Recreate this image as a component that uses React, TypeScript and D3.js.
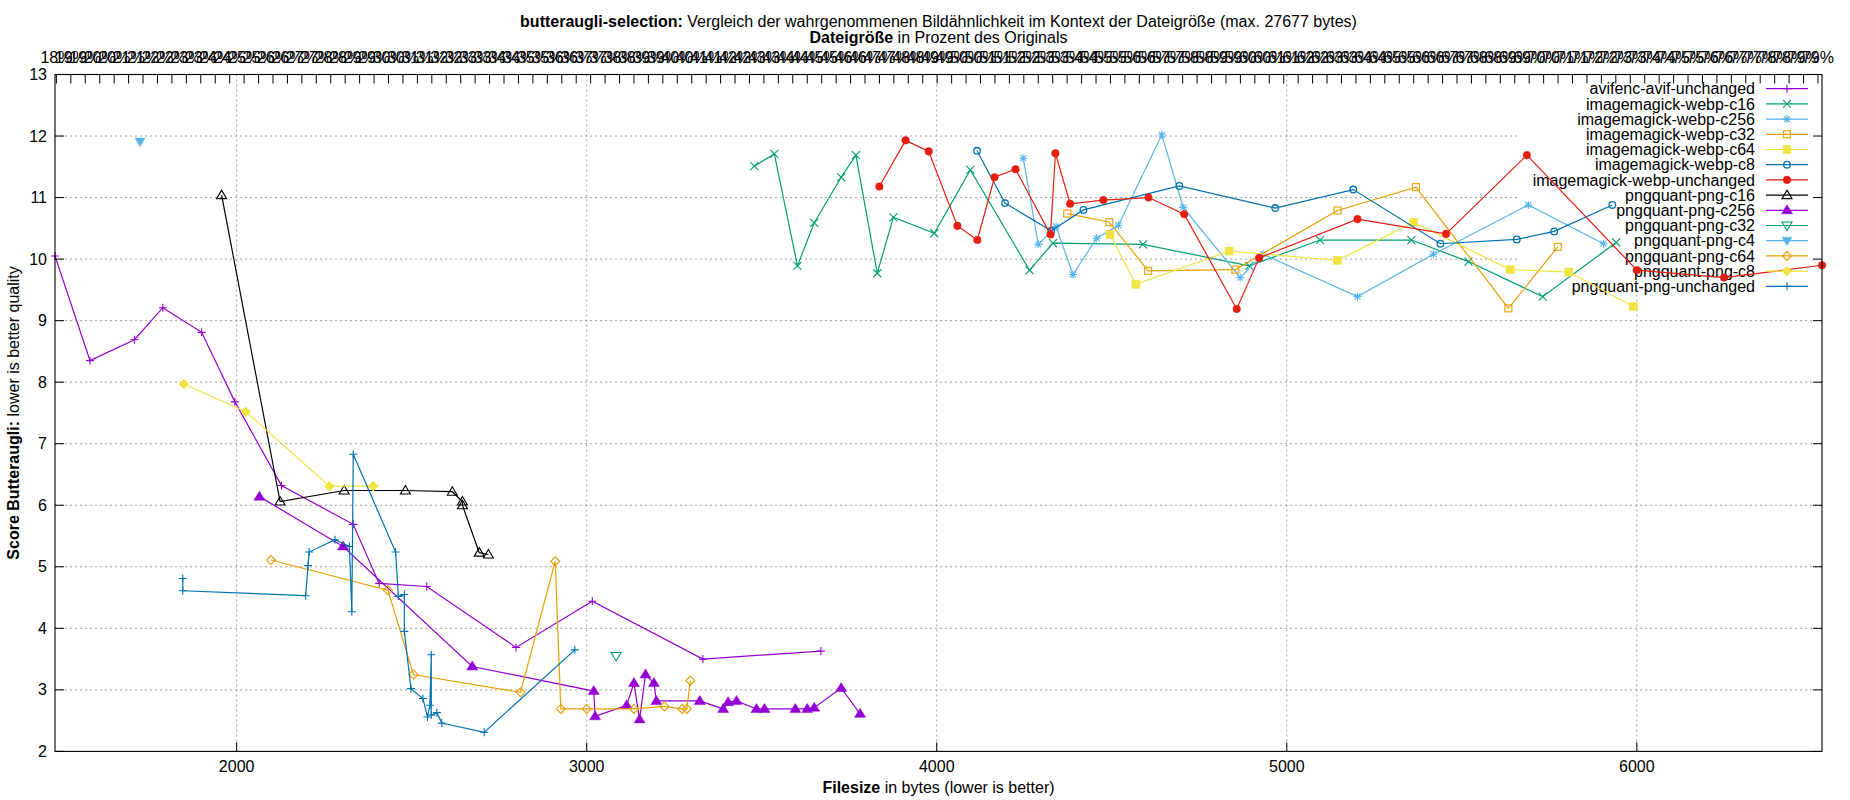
import React, { useEffect } from "react";
import * as d3 from "d3";

type Pt = [number, number];

// ---- data: [filesize in bytes, butteraugli score] ----
const avifencAvifUnchanged: Pt[] = [
  [1481, 10.05], [1581, 8.35], [1708, 8.69], [1789, 9.21], [1900, 8.81], [1995, 7.68],
  [2128, 6.32], [2333, 5.69], [2407, 4.73], [2543, 4.68], [2798, 3.69], [3016, 4.44],
  [3332, 3.5], [3669, 3.63],
];
const webpC16: Pt[] = [
  [3479, 11.51], [3536, 11.71], [3602, 9.89], [3650, 10.59], [3727, 11.33], [3769, 11.69],
  [3830, 9.77], [3876, 10.68], [3993, 10.42], [4096, 11.45], [4265, 9.82], [4332, 10.26],
  [4589, 10.24], [4893, 9.89], [5095, 10.31], [5356, 10.31], [5519, 9.96], [5731, 9.39],
  [5941, 10.27],
];
const webpC256: Pt[] = [
  [4247, 11.64], [4290, 10.24], [4341, 10.53], [4389, 9.75], [4457, 10.34], [4519, 10.55],
  [4643, 12.02], [4704, 10.84], [4867, 9.7], [4932, 10.08], [5202, 9.39], [5419, 10.08],
  [5690, 10.88], [5905, 10.25],
];
const webpC32: Pt[] = [
  [4373, 10.74], [4493, 10.6], [4604, 9.81], [4853, 9.83], [5145, 10.79], [5369, 11.17],
  [5633, 9.2], [5774, 10.2],
];
const webpC64: Pt[] = [
  [4495, 10.4], [4569, 9.59], [4835, 10.13], [5145, 9.98], [5362, 10.6], [5638, 9.83],
  [5806, 9.79], [5990, 9.23],
];
const webpC8: Pt[] = [
  [4115, 11.76], [4195, 10.91], [4327, 10.46], [4419, 10.8], [4693, 11.19], [4967, 10.83],
  [5190, 11.13], [5439, 10.25], [5657, 10.32], [5764, 10.45], [5930, 10.88],
];
const webpUnchanged: Pt[] = [
  [3836, 11.18], [3911, 11.93], [3977, 11.75], [4059, 10.54], [4116, 10.31], [4165, 11.33],
  [4225, 11.46], [4325, 10.4], [4339, 11.72], [4381, 10.9], [4476, 10.96], [4605, 11.0],
  [4707, 10.73], [4857, 9.19], [4921, 10.02], [5202, 10.65], [5455, 10.41], [5686, 11.69],
  [6000, 9.82], [6249, 9.7], [6529, 9.9],
];
const pngC16: Pt[] = [
  [1957, 11.04], [2124, 6.06], [2307, 6.24], [2482, 6.24], [2616, 6.22], [2645, 6.06],
  [2645, 6.0], [2693, 5.23], [2719, 5.2],
];
const pngC256: Pt[] = [
  [2065, 6.14], [2304, 5.33], [2673, 3.38], [3020, 2.98], [3024, 2.57], [3114, 2.75],
  [3135, 3.11], [3151, 2.52], [3168, 3.25], [3192, 3.11], [3199, 2.82], [3323, 2.82],
  [3390, 2.69], [3404, 2.8], [3428, 2.82], [3485, 2.69], [3508, 2.69], [3596, 2.69],
  [3630, 2.69], [3650, 2.71], [3727, 3.03], [3781, 2.61],
];
const pngC32: Pt[] = [[3084, 3.55]];
const pngC4: Pt[] = [[1724, 11.91]];
const pngC64: Pt[] = [
  [2098, 5.11], [2432, 4.62], [2505, 3.25], [2811, 2.96], [2910, 5.09], [2926, 2.69],
  [3000, 2.69], [3135, 2.69], [3222, 2.73], [3273, 2.69], [3286, 2.69], [3296, 3.15],
];
const pngC8: Pt[] = [[1849, 7.97], [2026, 7.52], [2265, 6.31], [2390, 6.31]];
const pngUnchanged: Pt[] = [
  [1846, 4.81], [1846, 4.61], [2197, 4.53], [2204, 5.02], [2207, 5.24], [2281, 5.44],
  [2322, 5.33], [2329, 4.27], [2333, 6.83], [2454, 5.24], [2462, 4.52], [2479, 4.55],
  [2479, 3.95], [2498, 3.02], [2532, 2.86], [2545, 2.56], [2552, 2.75], [2556, 3.57],
  [2556, 2.59], [2572, 2.63], [2586, 2.46], [2707, 2.31], [2966, 3.65],
];

const seriesNames = [
  "avifenc-avif-unchanged", "imagemagick-webp-c16", "imagemagick-webp-c256",
  "imagemagick-webp-c32", "imagemagick-webp-c64", "imagemagick-webp-c8",
  "imagemagick-webp-unchanged", "pngquant-png-c16", "pngquant-png-c256",
  "pngquant-png-c32", "pngquant-png-c4", "pngquant-png-c64", "pngquant-png-c8",
  "pngquant-png-unchanged",
];
const seriesData: Pt[][] = [
  avifencAvifUnchanged, webpC16, webpC256, webpC32, webpC64, webpC8, webpUnchanged,
  pngC16, pngC256, pngC32, pngC4, pngC64, pngC8, pngUnchanged,
];
const seriesColors = [
  "#9400d3", "#009e73", "#56b4e9", "#e69f00", "#f0e442", "#0072b2", "#e51e10",
  "#000000", "#9400d3", "#009e73", "#56b4e9", "#e69f00", "#f0e442", "#0072b2",
];
const seriesMarkers = [
  "plus", "cross", "star", "square", "squareFilled", "circle", "circleFilled",
  "triangle", "triangleFilled", "triangleDown", "triangleDownFilled", "diamond",
  "diamondFilled", "plus",
];

const yTickValues = [2, 3, 4, 5, 6, 7, 8, 9, 10, 11, 12, 13];
const xTickValues = [2000, 3000, 4000, 5000, 6000];
const REF_BYTES = 8250; // reference size for the top percent axis
const pctTickValues = d3.range(18, 79.01, 0.5);

// ---- layout ----
const W = 1850;
const H = 800;
const L = 55;
const R = 1822;
const T = 74.5;
const B = 751.4;
const FONT = "'Liberation Sans', Arial, sans-serif";

function Marker({ kind, x, y, color }: { kind: string; x: number; y: number; color: string }) {
  const s = 4;
  const common = { stroke: color, strokeWidth: 1.1, fill: "none" };
  switch (kind) {
    case "plus":
      return <path d={`M${x - s},${y}H${x + s}M${x},${y - s}V${y + s}`} {...common} />;
    case "cross":
      return <path d={`M${x - s},${y - s}L${x + s},${y + s}M${x - s},${y + s}L${x + s},${y - s}`} {...common} />;
    case "star":
      return (
        <path
          d={`M${x - s},${y}H${x + s}M${x},${y - s}V${y + s}M${x - s * 0.75},${y - s * 0.75}L${x + s * 0.75},${y + s * 0.75}M${x - s * 0.75},${y + s * 0.75}L${x + s * 0.75},${y - s * 0.75}`}
          {...common}
        />
      );
    case "square":
      return <rect x={x - 3.5} y={y - 3.5} width={7} height={7} {...common} />;
    case "squareFilled":
      return <rect x={x - 4} y={y - 4} width={8} height={8} fill={color} stroke={color} strokeWidth={0.5} />;
    case "circle":
      return <circle cx={x} cy={y} r={3.3} {...common} strokeWidth={1.3} />;
    case "circleFilled":
      return <circle cx={x} cy={y} r={3.8} fill={color} stroke={color} strokeWidth={0.5} />;
    case "triangle":
      return <path d={`M${x},${y - 5}L${x + 5},${y + 3.5}L${x - 5},${y + 3.5}Z`} {...common} />;
    case "triangleFilled":
      return <path d={`M${x},${y - 5.5}L${x + 5.5},${y + 3.5}L${x - 5.5},${y + 3.5}Z`} fill={color} stroke={color} strokeWidth={0.5} />;
    case "triangleDown":
      return <path d={`M${x},${y + 5}L${x + 5},${y - 3.5}L${x - 5},${y - 3.5}Z`} {...common} />;
    case "triangleDownFilled":
      return <path d={`M${x},${y + 5}L${x + 5},${y - 3.5}L${x - 5},${y - 3.5}Z`} fill={color} stroke={color} strokeWidth={0.5} />;
    case "diamond":
      return <path d={`M${x},${y - 4.5}L${x + 4.5},${y}L${x},${y + 4.5}L${x - 4.5},${y}Z`} {...common} />;
    case "diamondFilled":
      return <path d={`M${x},${y - 5}L${x + 5},${y}L${x},${y + 5}L${x - 5},${y}Z`} fill={color} stroke={color} strokeWidth={0.5} />;
    default:
      return null;
  }
}

export default function App() {
  useEffect(() => {
    document.body.style.margin = "0";
    document.body.style.overflow = "hidden";
  }, []);

  const allX = seriesData.flat().map((d) => d[0]);
  const xExt = d3.extent(allX) as [number, number];
  const x = d3.scaleLinear().domain(xExt).range([L, R]);
  const y = d3.scaleLinear().domain([2, 13]).range([B, T]);
  const x2 = d3
    .scaleLinear()
    .domain([(xExt[0] / REF_BYTES) * 100, (xExt[1] / REF_BYTES) * 100])
    .range([L, R]);
  const line = d3
    .line<Pt>()
    .x((d) => x(d[0]))
    .y((d) => y(d[1]));
  const pctFmt = d3.format(".0f");

  const legendX0 = 1517;
  const legendRow0 = 88.7;
  const legendDy = 15.2;
  const legendTextX = 1755;
  const sampleX1 = 1766;
  const sampleX2 = 1808;

  return (
    <svg width={W} height={H} style={{ display: "block", background: "#fff" }} fontFamily={FONT} fontSize={16}>
      <rect x={0} y={0} width={W} height={H} fill="#fff" />
      {/* grid */}
      <g stroke="#a0a0a0" strokeWidth={1} strokeDasharray="2,3">
        {yTickValues
          .filter((v) => v > 2 && v < 13)
          .map((v) => (
            <line key={"gy" + v} x1={L} x2={R} y1={y(v)} y2={y(v)} />
          ))}
        {xTickValues.map((v) => (
          <line key={"gx" + v} x1={x(v)} x2={x(v)} y1={T} y2={B} />
        ))}
      </g>
      {/* opaque key background */}
      <rect x={legendX0} y={T + 0.5} width={R - legendX0 - 0.5} height={legendRow0 + 13 * legendDy + 8 - T} fill="#fff" />

      {/* key text */}
      <g>
        {seriesNames.map((n, i) => (
          <text key={"lt" + n} x={legendTextX} y={legendRow0 + i * legendDy} dy="0.35em" textAnchor="end" fill="#000">
            {n}
          </text>
        ))}
      </g>

      {/* series */}
      {seriesData.map((data, i) => (
        <g key={"s" + i}>
          {data.length > 1 && (
            <path d={line(data) || ""} fill="none" stroke={seriesColors[i]} strokeWidth={1.2} />
          )}
          {data.map((d, j) => (
            <Marker key={j} kind={seriesMarkers[i]} x={x(d[0])} y={y(d[1])} color={seriesColors[i]} />
          ))}
        </g>
      ))}

      {/* key samples */}
      {seriesNames.map((n, i) => {
        const yy = legendRow0 + i * legendDy;
        return (
          <g key={"ls" + n}>
            <line x1={sampleX1} x2={sampleX2} y1={yy} y2={yy} stroke={seriesColors[i]} strokeWidth={1.2} />
            <Marker kind={seriesMarkers[i]} x={(sampleX1 + sampleX2) / 2} y={yy} color={seriesColors[i]} />
          </g>
        );
      })}

      {/* border */}
      <rect x={L} y={T} width={R - L} height={B - T} fill="none" stroke="#000" strokeWidth={1.1} />

      {/* ticks */}
      <g stroke="#000" strokeWidth={1}>
        {yTickValues.map((v) => (
          <g key={"yt" + v}>
            <line x1={L} x2={L + 9} y1={y(v)} y2={y(v)} />
            <line x1={R} x2={R - 9} y1={y(v)} y2={y(v)} />
          </g>
        ))}
        {xTickValues.map((v) => (
          <line key={"xt" + v} x1={x(v)} x2={x(v)} y1={B} y2={B - 9} />
        ))}
        {pctTickValues.map((v) => (
          <line key={"pt" + v} x1={x2(v)} x2={x2(v)} y1={T} y2={T + 9} />
        ))}
      </g>
      <g fill="#000">
        {yTickValues.map((v) => (
          <text key={"yl" + v} x={47} y={y(v)} dy="0.35em" textAnchor="end">
            {v}
          </text>
        ))}
        {xTickValues.map((v) => (
          <text key={"xl" + v} x={x(v)} y={772} textAnchor="middle">
            {v}
          </text>
        ))}
        {pctTickValues.map((v) => (
          <text key={"pl" + v} x={x2(v)} y={63} textAnchor="middle">
            {pctFmt(v) + "%"}
          </text>
        ))}
      </g>

      {/* titles */}
      <text x={(L + R) / 2} y={27} textAnchor="middle" fill="#000">
        <tspan fontWeight="bold">butteraugli-selection:</tspan>
        <tspan> Vergleich der wahrgenommenen Bildähnlichkeit im Kontext der Dateigröße (max. 27677 bytes)</tspan>
      </text>
      <text x={(L + R) / 2} y={43} textAnchor="middle" fill="#000">
        <tspan fontWeight="bold">Dateigröße</tspan>
        <tspan> in Prozent des Originals</tspan>
      </text>
      <text x={(L + R) / 2} y={793} textAnchor="middle" fill="#000">
        <tspan fontWeight="bold">Filesize</tspan>
        <tspan> in bytes (lower is better)</tspan>
      </text>
      <text transform={`translate(13,${(T + B) / 2}) rotate(-90)`} dy="0.35em" textAnchor="middle" fill="#000">
        <tspan fontWeight="bold">Score Butteraugli:</tspan>
        <tspan> lower is better quality</tspan>
      </text>
    </svg>
  );
}
